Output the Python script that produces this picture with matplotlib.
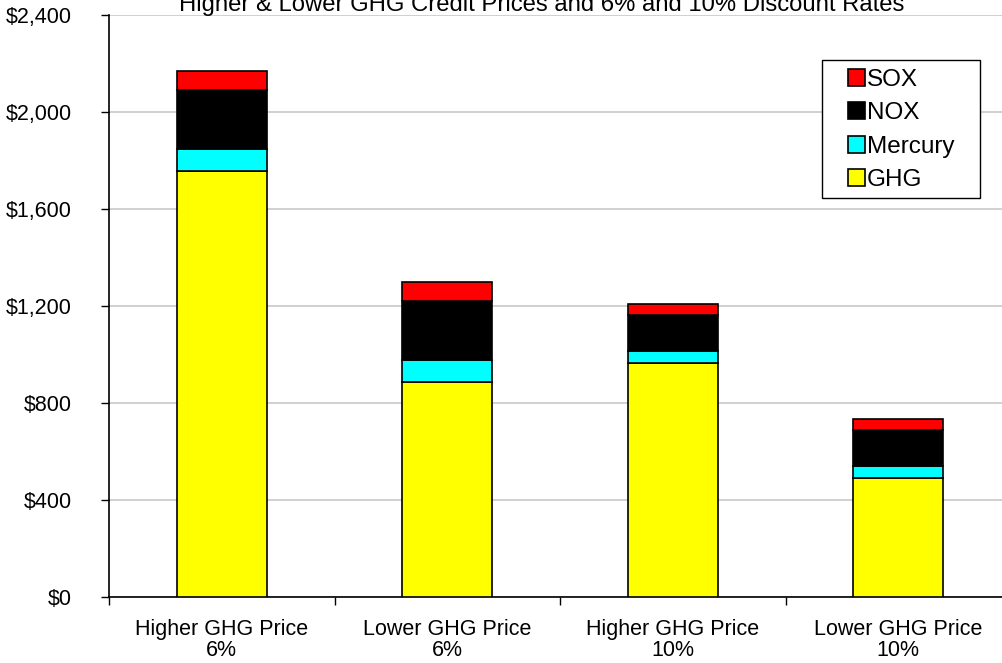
import numpy as np
import matplotlib
matplotlib.use('Agg')
import matplotlib.pyplot as plt
from matplotlib.patches import Rectangle
from matplotlib.ticker import FuncFormatter

plt.rcParams['font.family'] = ['Liberation Sans', 'DejaVu Sans']

# benefit components per scenario ($)
scenarios = ['Higher GHG Price\n6%', 'Lower GHG Price\n6%',
             'Higher GHG Price\n10%', 'Lower GHG Price\n10%']
ghg = [1755, 885, 965, 490]
mercury = [92, 92, 51, 51]
nox = [243, 243, 148, 148]
sox = [78, 78, 45, 45]

series = [('GHG', ghg, '#FFFF00'), ('Mercury', mercury, '#00FFFF'),
          ('NOX', nox, '#000000'), ('SOX', sox, '#FF0000')]

fig = plt.figure(figsize=(10.02, 6.63), dpi=100)
# plot area runs past the right edge of the canvas
ax = fig.add_axes([109 / 1002, 66 / 663, 902 / 1002, 582 / 663])

x = np.arange(len(scenarios))
bottom = np.zeros(len(scenarios))
handles = []
for name, vals, col in series:
    b = ax.bar(x, vals, width=0.4, bottom=bottom, color=col,
               edgecolor='black', linewidth=1.2, label=name, zorder=3)
    handles.append(b)
    bottom += np.array(vals)

ax.set_xlim(-0.5, len(scenarios) - 0.5)
ax.set_ylim(0, 2400)
ax.set_yticks(np.arange(0, 2401, 400))
ax.yaxis.set_major_formatter(FuncFormatter(lambda v, p: '${:,.0f}'.format(v)))
ax.yaxis.grid(True, color='#C8C8C8', linewidth=1.2)
ax.set_axisbelow(True)

ax.set_xticks(x)
ax.set_xticklabels(scenarios, linespacing=1.0)
ax.set_xticks(np.arange(-0.5, len(scenarios)), minor=True)
ax.tick_params(axis='x', which='major', length=0, pad=15.5, labelsize=15.5)
ax.tick_params(axis='x', which='minor', length=6, width=1, direction='out')
ax.tick_params(axis='y', length=6, width=1, pad=21, labelsize=15.5)

for s in ['top', 'right']:
    ax.spines[s].set_visible(False)
for s in ['left', 'bottom']:
    ax.spines[s].set_linewidth(1.2)

fig.text(542 / 1002, 1 - 11.5 / 663,
         'Higher & Lower GHG Credit Prices and 6% and 10% Discount Rates',
         ha='center', va='baseline', fontsize=17.2)

# legend box drawn separately so its padding can be wider than tall
ax.add_patch(Rectangle((822 / 1002, 1 - 198 / 663), 158 / 1002, 138 / 663,
                       transform=fig.transFigure, facecolor='white',
                       edgecolor='black', linewidth=1.0, zorder=4,
                       clip_on=False))
leg = ax.legend(handles[::-1], [s[0] for s in series][::-1],
                loc='upper left', bbox_to_anchor=(848 / 1002, 1 - 69 / 663),
                bbox_transform=fig.transFigure, borderaxespad=0,
                fontsize=17.5, frameon=False,
                handlelength=0.7, handleheight=0.7, handletextpad=0.08,
                labelspacing=0.47, borderpad=0)
leg.set_zorder(5)

fig.savefig('out.png', dpi=100)
